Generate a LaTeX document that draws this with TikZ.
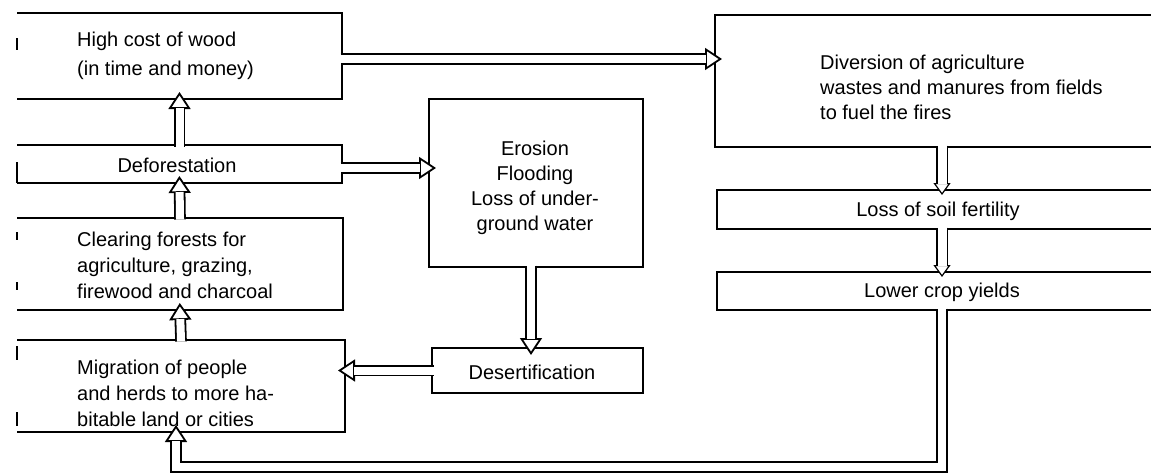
\documentclass[tikz,border=0pt]{standalone}
\usepackage{fontspec}
\setmainfont{Liberation Sans}
\usetikzlibrary{arrows.meta,calc}
\begin{document}
\begin{tikzpicture}[x=1pt,y=-1pt,
  box/.style={line width=1.8pt, line join=miter},
  area/.style={inner sep=0pt, outer sep=0pt},
  closed/.style={area, draw, line width=1.8pt},
  txt/.style={inner sep=0pt, font=\fontsize{20}{26}\selectfont},
  hshaft/.style={double, double distance=8pt, line width=1.8pt, line join=miter,
     shorten <=-1.5pt, shorten >=9pt},
  hhead/.style={draw=white, line width=0.1pt, shorten >=-7pt,
     -{Triangle[length=17pt, width=22pt, color=black, fill=white, line width=1.8pt]}},
  tshaft/.style={double, double distance=9pt, line width=1.2pt, line join=miter,
     shorten <=-1.5pt, shorten >=6pt},
  thead/.style={draw=white, line width=0.1pt, shorten >=-5pt,
     -{Triangle[length=12pt, width=17pt, color=black, fill=white, line width=1.2pt]}},
  tick/.style={line width=1.4pt}
]
\useasboundingbox (0,0) rectangle (1151,474);
\coordinate (R) at (1151,0);
% box areas
\node[area, minimum width=325pt, minimum height=86pt] (high) at (179.5,56) {};
\node[area, minimum width=325pt, minimum height=38pt] (defor) at (179.5,164) {};
\node[area, minimum width=326pt, minimum height=92pt] (clear) at (180,264) {};
\node[area, minimum width=328pt, minimum height=92pt] (migr) at (181,386) {};
\node[closed, minimum width=214pt, minimum height=168pt] (eros) at (536,183) {};
\node[closed, minimum width=211pt, minimum height=45pt] (des) at (537.5,370.5) {};
\node[area, minimum width=454pt, minimum height=132pt] (div) at (942,81) {};
\node[area, minimum width=450pt, minimum height=39pt] (loss) at (942,209.5) {};
\node[area, minimum width=450pt, minimum height=38pt] (lower) at (942,291) {};
% open borders
\foreach \b in {high,defor,clear,migr}
  \draw[box] (\b.north west) -- (\b.north east) -- (\b.south east) -- (\b.south west);
\foreach \b in {div,loss,lower}
  \draw[box] (\b.north -| R) -- (\b.north west) -- (\b.south west) -- (\b.south -| R);
% partial left edges
\draw[box] (defor.south west) -- ($(defor.south west)+(0,-21)$);
\draw[tick] ($(high.north west)+(0,25)$) -- ++(0,12);
\draw[tick] ($(clear.north west)+(0,14)$) -- ++(0,8);
\draw[tick] ($(clear.north west)+(0,64)$) -- ++(0,8);
\draw[tick] ($(migr.north west)+(0,6)$) -- ++(0,14);
\draw[tick] ($(migr.north west)+(0,72)$) -- ++(0,14);
% texts
\node[txt, anchor=west, align=left, font=\fontsize{20}{29}\selectfont] (thigh) at (77,56) {High cost of wood\\(in time and money)};
\node[txt] (tdefor) at (177,165) {Deforestation};
\node[txt, anchor=west, align=left] (tclear) at (77,265) {Clearing forests for\\agriculture, grazing,\\firewood and charcoal};
\node[txt, anchor=west, align=left] (tmigr) at (77,393) {Migration of people\\and herds to more ha-\\bitable land or cities};
\node[txt, align=center, font=\fontsize{20}{25}\selectfont] (teros) at (535,187.5) {Erosion\\Flooding\\Loss of under-\\ground water};
\node[txt] (tdes) at (532,372) {Desertification};
\node[txt, anchor=west, align=left, font=\fontsize{20}{25}\selectfont] (tdiv) at (820,87) {Diversion of agriculture\\wastes and manures from fields\\to fuel the fires};
\node[txt] (tloss) at (938,211) {Loss of soil fertility};
\node[txt] (tlower) at (942,292) {Lower crop yields};
% arrows
\coordinate (d1) at ($(defor.east)+(0,4)$);
\coordinate (h1) at ($(high.east)+(0,3)$);
\coordinate (e1) at ($(eros.south)+(-5,0)$);
\coordinate (m1) at ($(migr.south)+(-5,0)$);
\coordinate (fb) at (942,467);
% heads first, then shafts
\draw[hhead] (defor.north) -- (high.south);
\draw[hshaft] (defor.north) -- (high.south);
\draw[hhead] (clear.north) -- (defor.south);
\draw[hshaft] (clear.north) -- (defor.south);
\draw[hhead] (migr.north) -- (clear.south);
\draw[hshaft] (migr.north) -- (clear.south);
\draw[hhead] (d1) -- (d1 -| eros.west);
\draw[hshaft] (d1) -- (d1 -| eros.west);
\draw[hhead] (h1) -- (h1 -| div.west);
\draw[hshaft] (h1) -- (h1 -| div.west);
\draw[hhead] (e1) -- (e1 |- des.north);
\draw[hshaft] (e1) -- (e1 |- des.north);
\draw[hhead] (des.west) -- (des.west -| migr.east);
\draw[hshaft] (des.west) -- (des.west -| migr.east);
\draw[thead] (div.south -| loss.north) -- (loss.north);
\draw[tshaft] (div.south -| loss.north) -- (loss.north);
\draw[thead] (loss.south) -- (lower.north);
\draw[tshaft] (loss.south) -- (lower.north);
\draw[hhead] (fb -| m1) -- (m1);
\draw[hshaft] (lower.south) -- (fb) -| (m1);
\end{tikzpicture}
\end{document}
